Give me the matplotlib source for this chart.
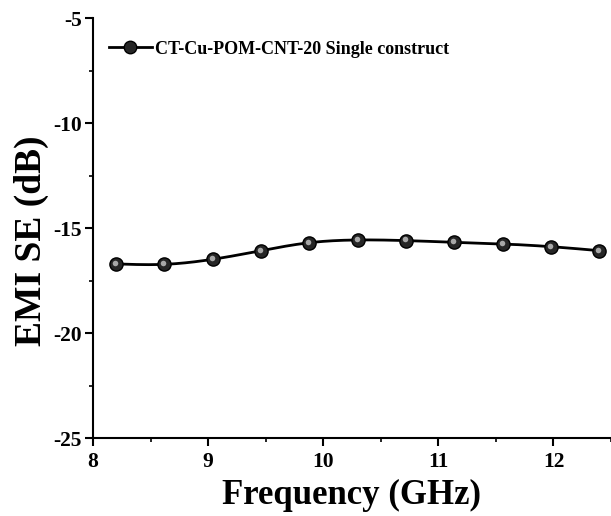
import numpy as np
from matplotlib import pyplot as plt
from matplotlib.transforms import offset_copy
from matplotlib.lines import Line2D
from matplotlib.ticker import MultipleLocator

freq = [8.2, 8.62, 9.04, 9.46, 9.88, 10.3, 10.72, 11.14, 11.56, 11.98, 12.4]
emi_se = [-16.71, -16.73, -16.49, -16.08, -15.70, -15.57, -15.60, -15.68, -15.76, -15.89, -16.08]
label = 'CT-Cu-POM-CNT-20 Single construct'


def natural_spline(x, y, n=400):
    # natural cubic spline, only used to draw the smooth connecting line
    x = np.asarray(x, float)
    y = np.asarray(y, float)
    h = np.diff(x)
    m = len(x)
    A = np.zeros((m, m))
    b = np.zeros(m)
    A[0, 0] = A[-1, -1] = 1
    for i in range(1, m - 1):
        A[i, i - 1] = h[i - 1]
        A[i, i] = 2 * (h[i - 1] + h[i])
        A[i, i + 1] = h[i]
        b[i] = 6 * ((y[i + 1] - y[i]) / h[i] - (y[i] - y[i - 1]) / h[i - 1])
    M = np.linalg.solve(A, b)
    xs = np.linspace(x[0], x[-1], n)
    idx = np.clip(np.searchsorted(x, xs) - 1, 0, m - 2)
    x0, x1 = x[idx], x[idx + 1]
    hh = x1 - x0
    t0, t1 = x1 - xs, xs - x0
    ys = (M[idx] * t0 ** 3 + M[idx + 1] * t1 ** 3) / (6 * hh) \
        + (y[idx] / hh - M[idx] * hh / 6) * t0 + (y[idx + 1] / hh - M[idx + 1] * hh / 6) * t1
    return xs, ys


plt.rcParams['font.family'] = 'Liberation Serif'
plt.rcParams['font.weight'] = 'bold'
plt.rcParams['axes.unicode_minus'] = False

fig = plt.figure(figsize=(6.11, 5.16), dpi=100)
ax = fig.add_axes([93 / 611, 78 / 516, 1 - 93 / 611, (438 - 18) / 516])

xs, ys = natural_spline(freq, emi_se)
ax.plot(xs, ys, color='black', lw=2, zorder=2)
ax.plot(freq, emi_se, ls='none', marker='o', ms=9.5, mfc='#262626', mec='black', mew=1.0, zorder=3,
        clip_on=False)
hl = offset_copy(ax.transData, fig=fig, x=-0.8, y=0.8, units='points')
ax.plot(freq, emi_se, ls='none', marker='o', ms=4, mfc='#a8a8a8', mec='none', transform=hl, zorder=4,
        clip_on=False)

ax.set_xlim(8, 12.5)
ax.set_ylim(-25, -5)
ax.xaxis.set_major_locator(MultipleLocator(1))
ax.xaxis.set_minor_locator(MultipleLocator(0.5))
ax.yaxis.set_major_locator(MultipleLocator(5))
ax.yaxis.set_minor_locator(MultipleLocator(2.5))
ax.tick_params(which='major', direction='out', length=6, width=1.5, labelsize=15.5)
ax.tick_params(axis='x', which='major', pad=4)
ax.tick_params(axis='y', which='major', pad=2)
ax.tick_params(which='minor', direction='out', length=3, width=1.2)
for lab in ax.get_xticklabels() + ax.get_yticklabels():
    lab.set_fontweight('bold')
for s in ('top', 'right'):
    ax.spines[s].set_visible(False)
for s in ('left', 'bottom'):
    ax.spines[s].set_linewidth(1.5)

ax.set_xlabel('Frequency (GHz)', fontsize=25, fontweight='bold', labelpad=5)
ax.set_ylabel('EMI SE (dB)', fontsize=27, fontweight='bold')
ax.yaxis.set_label_coords(-0.085, 0.47)

handle = Line2D([], [], color='black', lw=2, marker='o', ms=9, mfc='#262626', mec='black')
ax.legend([handle], [label], loc='upper left', frameon=False,
          prop={'weight': 'bold', 'size': 13}, handlelength=2.35, handletextpad=0.2,
          bbox_to_anchor=(0.0, 0.985))

fig.savefig('out.png', dpi=100)
